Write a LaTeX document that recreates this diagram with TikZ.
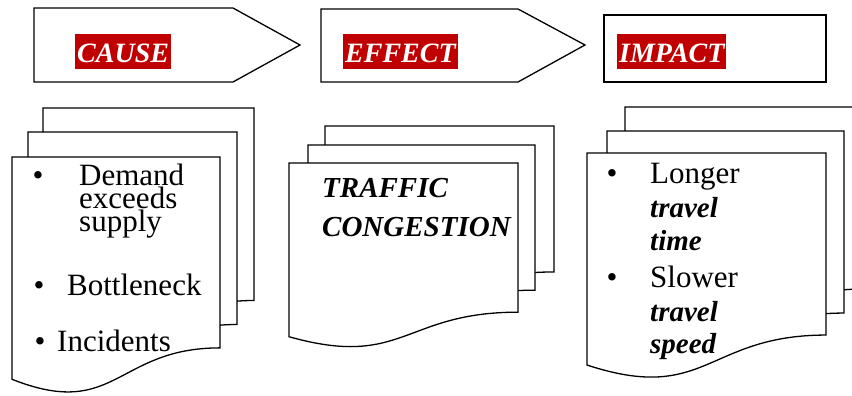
\documentclass[tikz,border=0pt]{standalone}
\usepackage{fontspec}
\setmainfont{Liberation Serif}
\usepackage{tikz}
\usetikzlibrary{positioning}
\definecolor{tagred}{HTML}{C00000}
\tikzset{page/.style = {draw, fill = white, line width = 1.3pt}}
\tikzset{header/.style = {draw, line width = 1.3pt}}
\tikzset{tag/.style = {fill = tagred, text = white, inner xsep = 2, inner ysep = 0,
                       text height = 29, text depth = 6, anchor = base west,
                       font = \fontsize{28}{28}\selectfont\bfseries\itshape}}
\tikzset{body/.style = {inner sep = 0, anchor = base west,
                        font = \fontsize{31}{31}\selectfont}}
\tikzset{bold/.style = {inner sep = 0, anchor = base west,
                        font = \fontsize{29}{29}\selectfont\bfseries\itshape}}
% one sheet of the document stack: left, top, width, height
\newcommand{\docpage}[4]{%
  \pgfmathsetmacro\pgRight{#2+0.802*#4}
  \pgfmathsetmacro\pgLeft{#2+0.934*#4}
  \pgfmathsetmacro\pgDip{#2+1.107*#4}
  \pgfmathsetmacro\pgMid{#1+0.5*#3}
  \draw [page] (#1, #2) -- (#1+#3, #2) -- (#1+#3, \pgRight)
    .. controls (\pgMid, \pgRight) and (\pgMid, \pgDip) .. (#1, \pgLeft) -- cycle;
}
\begin{document}
\begin{tikzpicture}[x = 1pt, y = -1pt]
        \useasboundingbox (0, 0) rectangle (852, 396);
        \clip (0, 0) rectangle (852, 396);
        % headers
        \draw [header] (34, 8) -- (233, 8) -- (300, 45) -- (233, 82) -- (34, 82) -- cycle;
        \draw [header] (321, 9) -- (518, 9) -- (585, 45) -- (518, 82) -- (321, 82) -- cycle;
        \draw [header] (604, 15) rectangle (826, 82);
        \node (cause) at (75, 63) [tag] {CAUSE};
        \node (effect) at (343, 63) [tag] {EFFECT};
        \node (impact) at (617, 63) [tag] {IMPACT};
        % cause stack
        \docpage{43}{108}{211}{240}
        \docpage{28}{132}{209}{240}
        \docpage{12}{157}{208}{238}
        \node (b1) at (32.5, 185) [body] {\textbullet};
        \node (demand) at (79, 185) [body] {Demand};
        \node (exceeds) at (79, 208) [body] {exceeds};
        \node (supply) at (79, 231) [body] {supply};
        \node (b2) at (33.5, 295) [body] {\textbullet};
        \node (bottleneck) at (67, 295) [body] {Bottleneck};
        \node (b3) at (34.5, 351) [body] {\textbullet};
        \node (incidents) at (57, 351) [body] {Incidents};
        % effect stack
        \docpage{325}{126}{229}{182}
        \docpage{308}{145}{227}{181}
        \docpage{289}{163}{229}{186}
        \node (traffic) at (322, 197) [bold] {TRAFFIC};
        \node (congestion) at (322, 236) [bold] {CONGESTION};
        % impact stack
        \docpage{625}{107}{239}{227}
        \docpage{607}{131}{237}{227}
        \docpage{587}{153}{239}{227}
        \node (b4) at (606.5, 183) [body] {\textbullet};
        \node (longer) at (650, 183) [body] {Longer};
        \node (travel1) at (650, 217) [bold] {travel};
        \node (time) at (650, 250) [bold] {time};
        \node (b5) at (606.5, 287) [body] {\textbullet};
        \node (slower) at (650, 287) [body] {Slower};
        \node (travel2) at (650, 321) [bold] {travel};
        \node (speed) at (650, 353) [bold] {speed};
      \end{tikzpicture}
\end{document}
